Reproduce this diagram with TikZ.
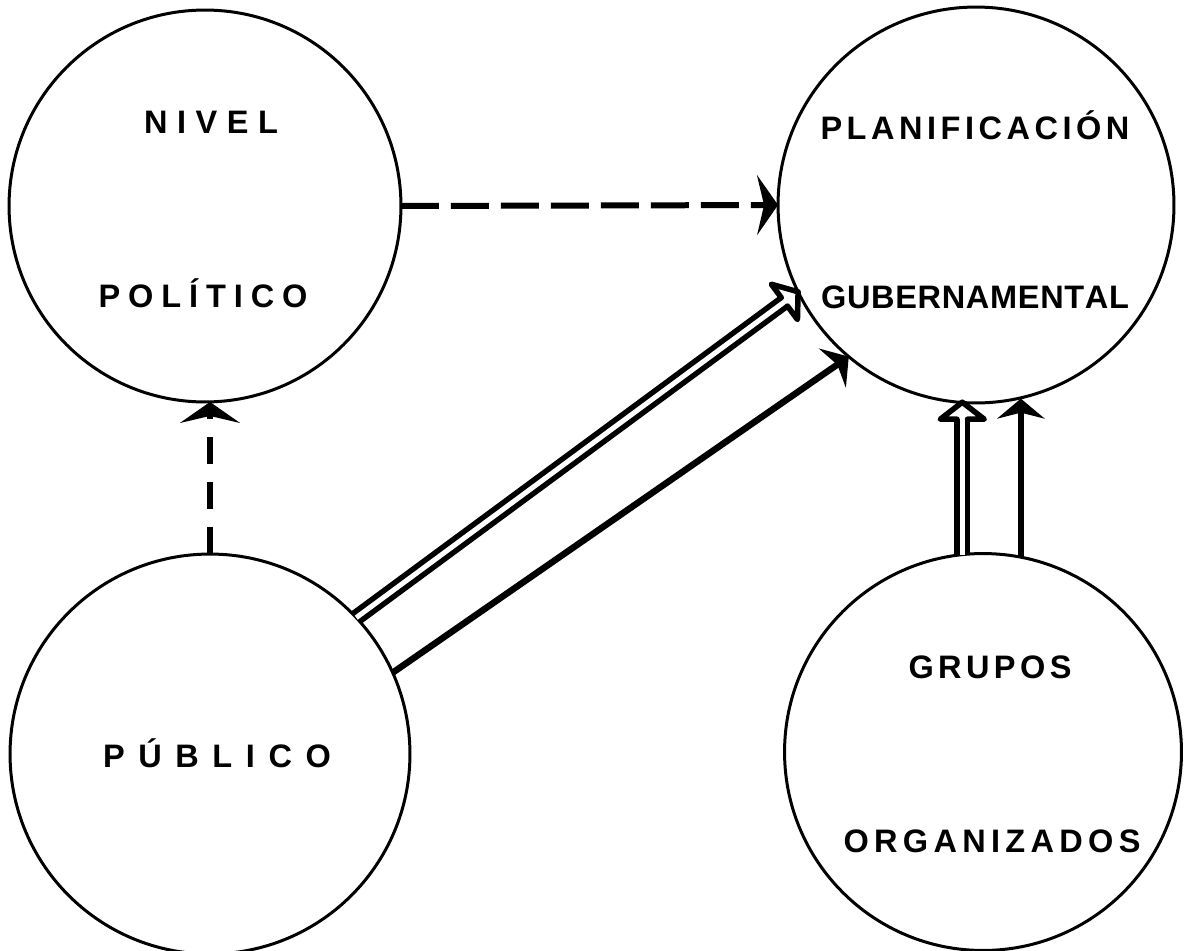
\documentclass[tikz,border=0pt]{standalone}
\usepackage{fontspec}
\setmainfont{Liberation Sans}
\usetikzlibrary{arrows.meta,decorations.markings,calc}
\newcommand\openhead{%
  \fill[white] (-0.34cm,0.44cm) -- (0,0) -- (-0.34cm,-0.44cm) -- cycle;
  \draw[line width=0.11cm, line join=round, line cap=round]
    (-0.34cm,0.105cm) -- (-0.34cm,0.44cm) -- (0,0) -- (-0.34cm,-0.44cm) -- (-0.34cm,-0.105cm);}
\tikzset{
  bubble/.style={circle, draw, line width=0.06cm, inner sep=0pt, outer sep=0pt, minimum size=#1},
  lbl/.style={font=\fontsize{18.5}{20}\selectfont\bfseries, inner sep=0pt},
  dashline/.style={line width=0.12cm},
  bigtip/.style={-{Stealth[length=0.42cm,width=1.2cm,inset=0.14cm]}},
  smalltip/.style={-{Stealth[length=0.4cm,width=0.95cm,inset=0.12cm]}},
  solidline/.style={line width=0.13cm},
  dblline/.style={double, double distance=0.1cm, line width=0.11cm, shorten >=0.34cm},
  hollowhead/.style={decorate, decoration={markings, mark=at position 1 with {\openhead}}}
}
\begin{document}
\begin{tikzpicture}[x=0.02cm, y=-0.02cm]
\useasboundingbox (0,0) rectangle (1192,950);
\fill[white] (0,0) rectangle (1192,950);

% circles
\node[bubble=7.84cm] (niv) at (205,206) {};
\node[bubble=7.92cm] (plan) at (976,205) {};
\node[bubble=8cm] (pub) at (210,754) {};
\node[bubble=7.94cm] (gru) at (983,752) {};

% labels
\node[lbl] (tniv) at (211,122) {\makebox[2.68cm]{N\hfill I\hfill V\hfill E\hfill L}};
\node[lbl] (tpol) at (203,293) {\makebox[4.18cm]{P\hfill O\hfill L\hfill Í\hfill T\hfill I\hfill C\hfill O}};
\node[lbl] (tplan) at (975,125) {\makebox[6.18cm]{P\hfill L\hfill A\hfill N\hfill I\hfill F\hfill I\hfill C\hfill A\hfill C\hfill I\hfill Ó\hfill N}};
\node[lbl] (tgub) at (975,297) {\makebox[6.16cm]{G\hfill U\hfill B\hfill E\hfill R\hfill N\hfill A\hfill M\hfill E\hfill N\hfill T\hfill A\hfill L}};
\node[lbl] (tpub) at (217,753) {\makebox[4.56cm]{P\hfill Ú\hfill B\hfill L\hfill I\hfill C\hfill O}};
\node[lbl] (tgru) at (990,667) {\makebox[3.26cm]{G\hfill R\hfill U\hfill P\hfill O\hfill S}};
\node[lbl] (torg) at (992,841) {\makebox[5.94cm]{O\hfill R\hfill G\hfill A\hfill N\hfill I\hfill Z\hfill A\hfill D\hfill O\hfill S}};

% dashed connectors
\draw[dashline, dash pattern=on 0.76cm off 0.24cm, bigtip] (niv.east) -- (plan.west);
\draw[dashline, dash pattern=on 0.55cm off 0.35cm, bigtip] (pub.north) -- (pub.north |- niv.south);

% diagonal connectors
\draw[dblline] (pub.43) -- (plan.206);
\path[hollowhead] (pub.43) -- (plan.206);
\draw[solidline, smalltip] (pub.24) -- (plan.230);

% vertical connectors
\draw[dblline] (gru.96.7) -- (gru.96.7 |- plan.265.4);
\path[hollowhead] (gru.96.7) -- (gru.96.7 |- plan.265.4);
\draw[solidline, smalltip] (gru.79.5) -- (gru.79.5 |- plan.282.5);
\end{tikzpicture}
\end{document}
